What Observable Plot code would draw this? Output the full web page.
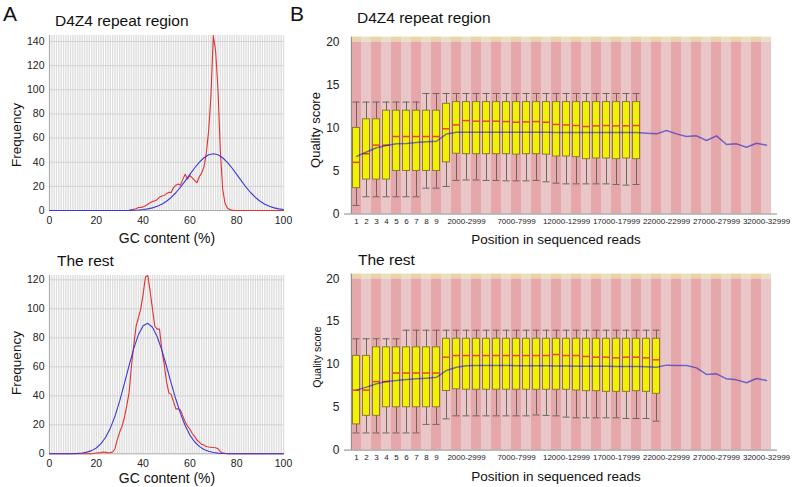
<!DOCTYPE html>
<html><head><meta charset="utf-8">
<script src="https://cdn.jsdelivr.net/npm/d3@7"></script>
<script src="https://cdn.jsdelivr.net/npm/@observablehq/plot@0.6"></script>
<style>
body{margin:0;background:#fff;font-family:"Liberation Sans",Arial,sans-serif;}
#root{position:relative;width:798px;height:487px;overflow:hidden;background:#fff;}
.lbl{position:absolute;white-space:nowrap;color:#111;line-height:1;}
.abs{position:absolute;}
</style></head><body><div id="root"></div>
<script>
// ---------- Panel A: GC content distributions ----------
const gcTicks = [0, 20, 40, 60, 80, 100];
const d4z4FreqTicks = [0, 20, 40, 60, 80, 100, 120, 140];
const restFreqTicks = [0, 20, 40, 60, 80, 100, 120];

const d4z4ObsX = [0,34,35,36,37,38,39,40,41,42,43,44,45,46,47,48,49,50,51,52,53,54,55,56,57,58,59,60,61,62,63,64,65,66,67,68,69,70,71,72,73,74,75,76,77,78,79,100];
const d4z4ObsY = [0,0,0.5,1,1.5,2.5,2.5,3,4,5,6.5,7.5,8,9,11,12,12.5,14,15,15,19,21,22,21,26,30,26,29,27,25,23,28,31,36,47,66,95,145,132,100,50,18,6,2,0.8,0.3,0,0];
const d4z4TheoX = [0,34,36,38,40,42,44,46,48,50,52,54,56,58,60,62,64,66,68,70,72,74,76,78,80,82,84,86,88,90,92,94,96,98,100];
const d4z4TheoY = [0,0.1,0.2,0.45,0.79,1.34,2.19,3.45,5.23,7.65,10.8,14.7,19.3,24.5,29.9,35.2,39.9,43.7,46.2,47,46.2,43.7,39.9,35.2,29.9,24.5,19.3,14.7,10.8,7.65,5.23,3.45,2.19,1.34,0.79];

const restObsX = [0,18,20,22,23,24,25,26,27,28,29,30,31,32,33,34,35,36,37,38,39,40,41,42,43,44,45,46,47,48,49,50,51,52,53,54,55,56,57,58,59,60,61,62,63,64,65,66,67,68,69,70,71,72,73,74,75,76,100];
const restObsY = [0,0,0.5,0.8,1.2,1,0.7,0.8,1.2,3.5,10,15,19,25,33,42,60,75,88,94,100,110,122,123,112,100,88,86,86,72,62,50,42,41,36,31,31,30,26,22,19,17,14,12,9.5,8,6.5,6,5,4.7,4.5,4.3,4.2,3.5,1.5,0.7,0.3,0,0];
const restTheoX = [0,8,10,12,14,16,18,20,22,24,26,28,30,32,34,36,38,40,42,44,46,48,50,52,54,56,58,60,62,64,66,68,70,72,74,78,100];
const restTheoY = [0,0.05,0.12,0.27,0.57,1.15,2.2,4.0,7.0,11.4,17.7,26,36.5,48.4,60.8,72.6,82.2,88.3,90,87.3,80.9,71.5,60.4,48.8,37.6,27.7,19.3,12.9,8.3,5.1,3.0,1.7,0.9,0.45,0.2,0.05,0];

// ---------- Panel B: per-position quality ----------
const positions = ["1","2","3","4","5","6","7","8","9","10-999","1000-1999","2000-2999","3000-3999","4000-4999","5000-5999","6000-6999","7000-7999","8000-8999","9000-9999","10000-10999","11000-11999","12000-12999","13000-13999","14000-14999","15000-15999","16000-16999","17000-17999","18000-18999","19000-19999","20000-20999","21000-21999","22000-22999","23000-23999","24000-24999","25000-25999","26000-26999","27000-27999","28000-28999","29000-29999","30000-30999","31000-31999","32000-32999"];
const shownTicks = ["1","2","3","4","5","6","7","8","9","2000-2999","7000-7999","12000-12999","17000-17999","22000-22999","27000-27999","32000-32999"];
const qualTicks = [0, 5, 10, 15, 20];

const d4z4High   = [13,13,13,13,13,13,13,14,14,14,14,14,14,14,14,14,14,14,14,14,14,14,14,14,14,14,14,14,14];
const d4z4Q3     = [10,11,11,12,12,12,12,12,12,12.8,13,13,13,13,13,13,13,13,13,13,13,13,13,13,13,13,13,13,13];
const d4z4Median = [6,7,8,8,9,9,9,9,9,9.9,10.35,10.85,10.78,10.78,10.78,10.74,10.66,10.7,10.74,10.66,10.4,10.35,10.28,10.16,10.24,10.28,10.24,10.24,10.28];
const d4z4Q1     = [3,4,4,4,5,5,5,5,5,6,7,6.95,6.95,6.95,6.95,6.95,6.9,6.95,6.95,6.9,6.68,6.68,6.6,6.37,6.45,6.45,6.37,6.45,6.37];
const d4z4Low    = [1,2,2,2,2,2,2,3,3,3.2,3.9,3.95,3.95,3.9,3.9,3.85,3.85,3.85,3.9,3.74,3.58,3.5,3.5,3.5,3.5,3.5,3.43,3.35,3.43];
const d4z4Mean   = [6.7,7.2,7.7,7.95,8.15,8.2,8.3,8.38,8.45,9.3,9.5,9.5,9.5,9.5,9.5,9.5,9.5,9.5,9.5,9.5,9.48,9.48,9.48,9.47,9.47,9.47,9.47,9.47,9.47,9.39,9.31,9.7,9.31,9.0,9.08,8.54,9.08,8.07,8.15,7.76,8.22,7.99];

const restHigh   = [13,13,13,13,13,14,14,14,14,14,14,14,14,14,14,14,14,14,14,14,14,14,14,14,14,14,14,14,14,14,14];
const restQ3     = [11,11,12,12,12,12,12,12,12,13,13,13,13,13,13,13,13,13,13,13,13,13,13,13,13,13,13,13,13,13,13];
const restMedian = [7,7,8,8,9,9,9,9,9,10.85,11.04,11.04,11.04,11.04,11.04,11.04,11.04,11.04,11.04,11.04,11.16,11.04,11.04,10.93,10.85,10.85,10.77,10.85,10.85,10.77,10.54];
const restQ1     = [3,4,4,5,5,5,5,5,5,6.9,7.1,7.05,7.05,7.05,7.05,7.05,7.05,7.05,7.04,7.04,7.04,7.04,6.96,6.88,6.88,6.8,6.8,6.8,6.88,6.8,6.57];
const restLow    = [2,2,2,2,2,2,2,3,3,3.65,4,4,4,4,4,4,4,4,4.1,4.05,4.0,3.85,3.77,3.77,3.77,3.77,3.77,3.69,3.69,3.69,3.38];
const restMean   = [7.0,7.35,7.74,8.0,8.13,8.24,8.32,8.4,8.5,9.3,9.68,9.85,9.88,9.88,9.88,9.88,9.86,9.86,9.85,9.84,9.83,9.82,9.8,9.8,9.79,9.78,9.77,9.77,9.76,9.72,9.68,9.92,9.88,9.88,9.6,8.83,8.9,8.32,8.2,7.86,8.36,8.13];

// ---------- helpers ----------
const root = document.getElementById("root");
const FONT = "Liberation Sans, Arial, sans-serif";
function place(node, left, top) {
  const d = document.createElement("div");
  d.className = "abs"; d.style.left = left + "px"; d.style.top = top + "px";
  d.appendChild(node); root.appendChild(d);
}
function label(text, x, y, size, opts = {}) {
  const d = document.createElement("div");
  d.className = "lbl"; d.textContent = text;
  d.style.fontSize = size + "px";
  d.style.left = x + "px"; d.style.top = y + "px";
  let t = opts.center ? "translate(-50%,-50%)" : "translate(0,-50%)";
  if (opts.rotate) t += " rotate(-90deg)";
  d.style.transform = t;
  root.appendChild(d);
}
const zip = (xs, ys) => xs.map((x, i) => ({x, y: ys[i]}));

function gcPlot(obsX, obsY, theoX, theoY, yMax, yTicks, height) {
  return Plot.plot({
    width: 300, height, marginLeft: 49, marginRight: 17, marginTop: 5, marginBottom: 20,
    x: {domain: [0, 100]}, y: {domain: [0, yMax]},
    style: {fontFamily: FONT, fontSize: "10.5px", color: "#222", background: "transparent"},
    marks: [
      Plot.ruleX(d3.range(0, 101), {stroke: "#dedede", strokeWidth: 1.4}),
      Plot.ruleY(yTicks.slice(1), {stroke: "#d2d2d2"}),
      Plot.ruleX([0], {stroke: "#aaa"}),
      Plot.ruleY([0], {stroke: "#aaa"}),
      Plot.line(zip(obsX, obsY), {x: "x", y: "y", stroke: "#dd3333", strokeWidth: 1.1}),
      Plot.line(zip(theoX, theoY), {x: "x", y: "y", stroke: "#3b3bd6", strokeWidth: 1.1}),
      Plot.axisX({ticks: gcTicks, tickSize: 0, tickPadding: 6, fontSize: 10.5, fill: "#222", label: null}),
      Plot.axisY({ticks: yTicks, tickSize: 0, tickPadding: 5, fontSize: 10.5, fill: "#222", label: null})
    ]
  });
}

function qualPlot(high, q3, median, q1, low, mean, height, marginTop) {
  const stripes = positions.map((p, i) => ({p, odd: i % 2 === 0}));
  const boxes = high.map((h, i) => ({p: positions[i], high: h, q3: q3[i], median: median[i], q1: q1[i], low: low[i]}));
  const means = mean.map((m, i) => ({p: positions[i], mean: m}));
  return Plot.plot({
    width: 508, height, marginLeft: 54, marginRight: 21, marginTop, marginBottom: 20,
    x: {type: "band", domain: positions, padding: 0},
    y: {domain: [0, 20.55]},
    style: {fontFamily: FONT, fontSize: "8px", color: "#222", background: "transparent"},
    marks: [
      Plot.barY(stripes, {x: "p", y1: 0, y2: 20, fill: d => d.odd ? "#e6a7aa" : "#e9c6c8", inset: 0}),
      Plot.barY(stripes, {x: "p", y1: 20, y2: 20.55, fill: d => d.odd ? "#e9d4a6" : "#ecdec2", inset: 0}),
      Plot.ruleX(boxes, {x: "p", y1: "low", y2: "high", stroke: "#6e6660"}),
      Plot.tickY(boxes, {x: "p", y: "low", stroke: "#6e6660", inset: 1.5}),
      Plot.tickY(boxes, {x: "p", y: "high", stroke: "#6e6660", inset: 1.5}),
      Plot.barY(boxes, {x: "p", y1: "q1", y2: "q3", fill: "#f2f200", stroke: "#8a7b32", insetLeft: 1.5, insetRight: 1.5}),
      Plot.tickY(boxes, {x: "p", y: "median", stroke: "#e8461e", strokeWidth: 1.5, inset: 1.5}),
      Plot.line(means, {x: "p", y: "mean", stroke: "#0000cc", strokeOpacity: 0.5, strokeWidth: 1.5}),
      Plot.ruleY([0], {stroke: "#888"}),
      Plot.ruleX([positions[0]], {dx: -5.15, stroke: "#888"}),
      Plot.axisX({ticks: shownTicks, tickSize: 0, tickPadding: 4, fontSize: 8, fill: "#222", label: null}),
      Plot.axisY({ticks: qualTicks, tickSize: 0, tickPadding: 5, fontSize: 12, fill: "#222", label: null})
    ]
  });
}

// ---------- draw ----------
place(gcPlot(d4z4ObsX, d4z4ObsY, d4z4TheoX, d4z4TheoY, 145, d4z4FreqTicks, 200), 0, 30);
place(gcPlot(restObsX, restObsY, restTheoX, restTheoY, 123, restFreqTicks, 203.3), 0, 270);
place(qualPlot(d4z4High, d4z4Q3, d4z4Median, d4z4Q1, d4z4Low, d4z4Mean, 203.5, 6.6), 290, 30);
place(qualPlot(restHigh, restQ3, restMedian, restQ1, restLow, restMean, 201.6, 5.6), 290, 268);

label("A", 3, 13, 21);
label("B", 290, 13, 21);
label("D4Z4 repeat region", 55, 21, 15.5);
label("The rest", 57, 260.5, 15.5);
label("D4Z4 repeat region", 357, 18, 15.5);
label("The rest", 358, 260, 15.5);
label("Frequency", 17, 135, 13.5, {center: true, rotate: true});
label("Frequency", 17, 363, 13.5, {center: true, rotate: true});
label("GC content (%)", 167, 238, 14, {center: true});
label("GC content (%)", 167, 478, 14, {center: true});
label("Quality score", 315, 130, 13, {center: true, rotate: true});
label("Quality score", 317, 357, 10.5, {center: true, rotate: true});
label("Position in sequenced reads", 556, 240, 13.5, {center: true});
label("Position in sequenced reads", 556, 477, 13.5, {center: true});
</script></body></html>
